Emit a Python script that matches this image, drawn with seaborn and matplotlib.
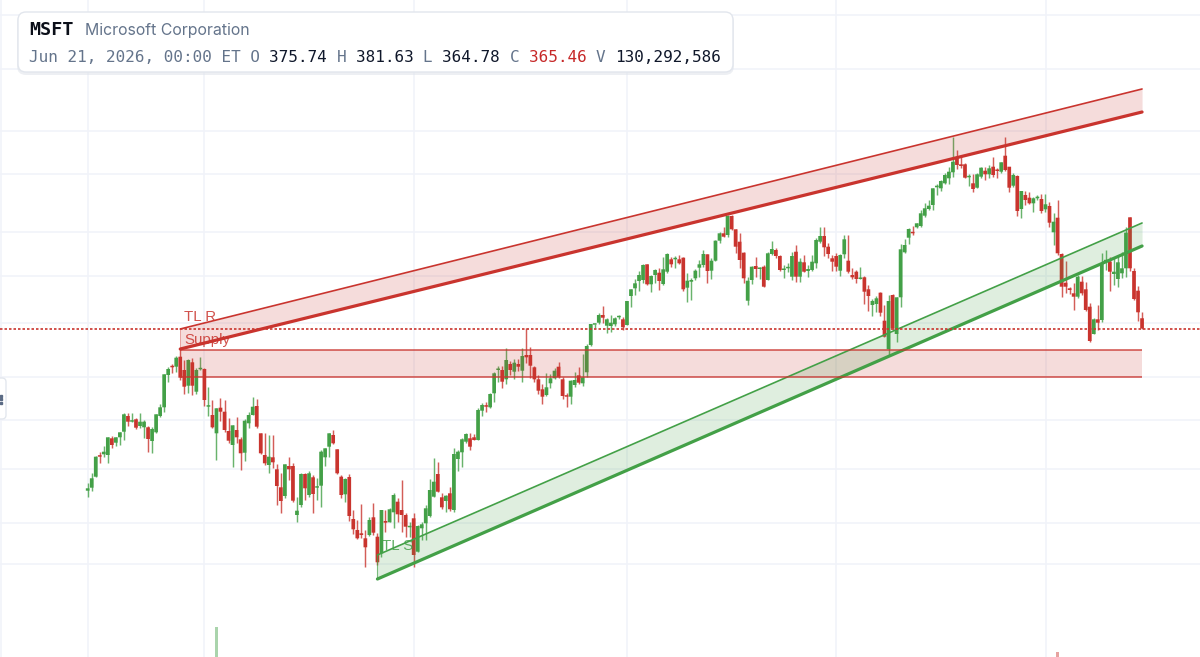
import numpy as np
import pandas as pd
import matplotlib
matplotlib.use('Agg')
import matplotlib.pyplot as plt
from matplotlib.patches import FancyBboxPatch
import seaborn as sns

# weekly candles, oldest first
opens = [
    203.3,206.3,217.3,238,239.7,239,255.7,251.3,256.7,262.3,
    278,272.3,274.7,268,266.7,266.7,253,261.7,278,286.7,
    319,327.3,327.3,337.3,324,308.3,331.7,302.3,324.7,325,
    287.3,279,260.7,286.3,282.3,263,249,264,254.7,241.3,
    270.7,279,288,260.7,239,229,236.7,224.7,206.7,198,
    228,228,179,189,220,199,216.7,206.3,208.3,236.7,
    247.3,259,244.7,217.3,199.7,217,175,164,160.7,155.7,
    159,176.7,157.3,140.7,173,171.7,181.7,192.3,184,179,
    166.7,175.7,142.3,165.7,170.7,178,197.3,220,196.7,193,
    200.7,184,235,241.7,252.3,255.7,256.7,254,283.3,288,
    286.7,300.7,324,324,314.7,330,322.3,330,323.3,339,
    339,326.7,314.7,304.7,299,310.7,315.7,327.3,314.7,298,
    297.3,309,318.7,310.7,321.7,349,369.3,371.3,379,368.3,
    368,369.7,376.7,374.7,369,398,405.7,413,414,429.7,
    409.7,419,421.3,410,422.3,434.7,434.7,434.7,436.3,406.3,
    412.3,415.7,426.3,429,439.7,423.3,433.3,453.3,460.7,459,
    478,464.7,452.3,441.3,393.3,414,428,425,427.3,414,
    440,444,438,424,425.7,417.3,442.3,417.3,431.7,423,
    424,430.7,452.3,458,447.3,435.7,438,423.3,439.7,433.3,
    419,422.3,415,416.7,404.7,389,390,401.3,373.3,344.7,
    399,360,396.7,441.7,456.3,461.7,466.7,468,478.3,485,
    489,506.7,505.7,510.7,515.7,521.7,536.3,529.7,529.7,516.7,
    510.7,506.3,517.3,523.3,519.7,527.3,524,522.3,538.3,527.3,
    508.3,518,485,499,496.3,490.7,495.7,495,484.7,488,
    461.7,476.3,440,411.3,405.7,400.7,397.3,412.3,404.7,387.3,
    360,374.7,374,432.7,432.3,420,415,420.7,425.7,476.7,
    423,403.3,375.74,
]
highs = [
    210.7,220.7,238,242.3,248,257.3,258,257.3,262.3,281.3,
    281.3,280.7,276.3,280.7,274,268,267.3,279.7,289.7,319.7,
    327.3,329.7,338,345.7,334,335,336.3,325.7,337.3,325.7,
    307.3,294,285.7,295.7,294,275.7,268.7,276.7,256.7,274.7,
    282.3,296.7,295.3,261.3,261.3,259,259,230,221.3,229.7,
    237.3,231.3,197.3,221.3,220.7,223,218.7,215.7,244,246.3,
    261.3,264,245,218.7,215.7,220,184,174,190,164,
    177.3,190.7,161.3,184,184,185.7,200.7,195.7,214,180.7,
    172.3,180.7,169,172.3,189,214.7,235.7,232.3,200.7,199,
    206.7,246.3,244,255.7,260.7,260.7,260,285.7,290.7,292.3,
    301.3,322.3,328,328.3,346.3,333.3,334.7,334.7,345.7,365.7,
    346.7,328,319,310,321.3,320,325.7,332.3,316.7,301.3,
    314,322.3,326.7,340,350,370,370,381.3,388,375.7,
    379,376.7,379,377.3,393,404.7,414.7,423.3,429.7,429.7,
    419,424.7,425.7,437.3,440.7,437.3,438,439,436.7,421.3,
    415.7,424.7,434,444,440,435.7,454,461.7,467.3,479,
    479,464.7,460.7,442.3,417.3,428,436.7,427.3,429,442.3,
    453,446.3,439,429,430.7,442.3,449,435.7,439,429,
    439,456.3,467.3,466.7,450.7,439,440.7,439.7,459,459,
    425.7,424,427.3,418,409,394.7,398,402.3,389,399,
    400,396.7,450,454.7,465.7,468,471.3,484,490.7,494,
    506.3,509.7,514,520.7,527.3,557.3,544,538,530.7,519.7,
    519.7,520.7,527.3,527.3,529,537.3,525.7,532.3,556.7,527.3,
    520.7,519,503,503.3,502.3,497.3,499,499.7,499.7,491.7,
    480.7,494,441.3,433.3,406.7,410.7,419,418,412.3,390.7,
    375.7,389,441.3,444,436.7,437.3,438,442.3,467.3,477.3,
    425.7,408,381.63,
]
lows = [
    196.7,203,217,231.3,237.3,231.3,245.7,248,249,254,
    268,272.3,265,265.7,255.7,242.3,241.3,260.7,276.7,282.3,
    312.3,321.3,322.3,314,300,301.3,298.7,300,324,288,
    278,266.3,234,273,262.3,250.7,226.7,251.3,224,233,
    265.7,279,266.3,239.7,229,220.7,225.7,189,181.3,195.7,
    214,192.3,172.3,187.3,194,196.7,180.7,194,187.3,228.3,
    236.7,250,220,196.3,191.7,173.3,159.7,154.7,155.7,127.3,
    158.3,159,129,137.3,162.3,171.7,165.7,172.3,162.3,157.3,
    157.3,127.3,142.3,154,154,176.7,197.3,202.3,185,181.7,
    183,182.3,223.3,226.7,250.7,244,254,254,278.3,282.3,
    285.7,292.3,312.3,305.7,310,319,314.7,323.3,312.3,330.7,
    315.7,312.3,300,290,298,305.7,314.7,315.7,294.7,287.3,
    290,306.7,310,308,317.3,348.3,365.7,370,371.3,361.3,
    362.3,368,374.7,364,369,387.3,399,403.3,410.7,409,
    402.3,410.7,404,409,421.3,427.3,425.7,430,403.3,392.3,
    394,414,417.3,426.7,410.7,414.7,433,451.3,456.7,457.3,
    464,441.3,425.7,410.7,389,410,417.3,414.7,406.7,414,
    439,435.7,423.3,415.7,422.3,414,412.3,411.7,421.7,417.3,
    423.3,425.7,450.7,438,435.7,423.3,423,418,435.7,420.7,
    414.7,411.3,414.7,390,383.3,378.3,382.3,378.3,356.7,339,
    364,351.7,387.3,440.7,450,459,466.3,467.3,476.7,484,
    484,499,503.3,509.7,509.7,517.3,525,526.3,515.7,508.3,
    502.3,505.7,516.3,514,516.3,517.3,515.7,521.3,523.3,502.3,
    506.7,478.3,475.7,489,489.7,481.7,494,480.7,482.3,467.3,
    449,439,396.7,400.7,399.7,384,395.7,399,383,352.3,
    359.7,364,372.3,424,403.3,409,406.7,415.7,416.7,423.3,
    394,373.3,364.78,
]
closes = [
    205.7,215.7,237.3,237.3,242.3,256.7,249,256.7,261.7,279.7,
    272.3,273,266.3,272.3,272.3,255,265,279.7,286.7,319.7,
    325,326.7,336.3,316.3,307.3,334,308.3,324,325.7,294,
    288,266.7,285.7,282.3,264,253.3,268.7,256.7,240.7,273.3,
    279,287.3,267.3,240.7,230.7,237.3,231.7,208,193,229.7,
    224.7,193.3,183.3,220,205.7,220.7,200,206.7,242.3,245.7,
    260.7,250.7,220.7,199,215,178,164.7,155.7,159,146.7,
    174,161.3,131.7,184,171.3,184.7,199,179.7,179,167.3,
    168,139,168,169.7,185.7,204,212.3,202.3,186.7,198.3,
    184.7,240,242.3,254.7,260,247.3,254,284,289,287.3,
    300,320.7,324.7,312.3,334,324,331.3,327.3,338,336.7,
    328.3,314.7,303.3,297.3,306.7,315.7,323.3,316.7,298,297.3,
    313.3,314,311.3,316.7,348,370,370,379,376.3,374.7,
    371.3,375.7,377.3,366.7,393,404.7,410.7,419,429,409.7,
    418,424,413,424.7,440,429.7,435,430.7,404.7,413.3,
    414,423.3,429.7,440,423,433.3,453.3,460.7,457.3,478,
    464.7,447.3,434,415.7,413.3,427.3,425,425.7,407.3,440.7,
    445,438,424,424.7,426.3,438,417.3,432.3,422.3,425,
    432.3,454,458,446.7,440,432.3,427.3,439,454.7,422.3,
    416.7,415,416.3,402.3,398,393,395.7,381.3,357.3,393,
    365.7,396.7,444.7,449,465,460.7,470.7,480.7,485.7,488.3,
    505.7,508.3,513,519,522.3,532.3,529,528,516.3,517.3,
    505,519.7,526.3,519.7,525.7,519,523,531.7,524,506.3,
    519,483,503,494,490.7,495.7,497.3,483,489.7,471.3,
    472.3,440.7,407.3,407.3,404,397.3,417.3,400.7,384,353,
    374.7,371.3,430.7,433.3,422.3,422.3,431.7,425.7,461.3,425.7,
    395,381.7,365.46,
]

# only two volume bars poke up into the view
volume_weeks = [32, 241]
volume_vals = [30, 5]
volume_up = [True, False]

# drawn levels: week index and price at each end
resist_weeks = [23, 262]
resist_low = [345, 582]
resist_high = [365, 605]
support_weeks = [72, 262]
support_low = [115, 448]
support_high = [139, 471]
supply_weeks = [23, 262]
supply_top = 344
supply_bottom = 317
last_close = 365.46

grid_weeks = [-21.5, 0, 29, 81, 134, 186, 238.2]
grid_prices = [679, 625, 563, 520, 462, 418, 371, 317, 274, 225, 171, 130]

GREEN = '#43a047'
RED = '#c9342e'

sns.set_theme(style='white')
plt.rcParams['font.family'] = ['Liberation Sans', 'DejaVu Sans']

df = pd.DataFrame({'open': opens, 'high': highs, 'low': lows, 'close': closes})
df['week'] = np.arange(len(df))
df['up'] = df['close'] >= df['open']
df['color'] = df['up'].map({True: GREEN, False: RED})

fig = plt.figure(figsize=(12, 6.57), dpi=100)
ax = fig.add_axes([0, 0, 1, 1])
ax.set_xlim(-21.79, 276.4)
ax.set_ylim(37, 694)

ax.set_xticks(grid_weeks)
ax.set_yticks(grid_prices)
ax.tick_params(length=0, labelbottom=False, labelleft=False)
ax.grid(True, color='#f1f3f9', lw=1.2)
ax.set_axisbelow(True)
sns.despine(ax=ax, left=True, bottom=True)

# candles
ax.vlines(df['week'], df['low'], df['high'], color=df['color'], lw=1.05, alpha=0.8, zorder=2)
body_low = df[['open', 'close']].min(axis=1)
body_h = (df['open'] - df['close']).abs().clip(lower=1.5)
bars = ax.bar(df['week'], body_h, bottom=body_low, width=0.92, color=df['color'], linewidth=0, zorder=3)
for b in bars:
    b.set_snap(False)

# volume sits on its own scale at the bottom
ax_vol = fig.add_axes([0, 0, 1, 1], sharex=ax)
ax_vol.patch.set_alpha(0)
ax_vol.axis('off')
ax_vol.set_ylim(0, 657)
ax_vol.bar(volume_weeks, volume_vals, width=0.65,
           color=[GREEN if u else RED for u in volume_up], alpha=0.45, linewidth=0)

# bands
ax.fill_between(resist_weeks, resist_low, resist_high, color=RED, alpha=0.17, lw=0, zorder=4)
ax.fill_between(supply_weeks, supply_bottom, supply_top, color=RED, alpha=0.17, lw=0, zorder=4)
ax.fill_between(support_weeks, support_low, support_high, color=GREEN, alpha=0.17, lw=0, zorder=4)

sns.lineplot(x=resist_weeks, y=resist_low, color=RED, lw=2.3, ax=ax, zorder=5)
sns.lineplot(x=resist_weeks, y=resist_high, color=RED, lw=1.2, ax=ax, zorder=5)
sns.lineplot(x=support_weeks, y=support_low, color=GREEN, lw=2.3, ax=ax, zorder=5)
sns.lineplot(x=support_weeks, y=support_high, color=GREEN, lw=1.2, ax=ax, zorder=5)
ax.vlines(support_weeks[0], support_low[0], support_high[0], color=GREEN, lw=0.8, alpha=0.7, zorder=5)
ax.vlines(resist_weeks[0], resist_low[0], resist_high[0], color=RED, lw=0.6, alpha=0.5, zorder=5)
ax.hlines([supply_top, supply_bottom], supply_weeks[0], supply_weeks[1], color=RED, lw=1.2, alpha=0.8, zorder=5)
ax.axhline(last_close, color=RED, lw=1.2, ls=(0, (1.5, 1.2)), zorder=5)

ax.text(24, 377, 'TL R', color=RED, fontsize=10.8, va='center', alpha=0.85, zorder=6)
ax.text(24, 354, 'Supply', color=RED, fontsize=10.8, va='center', alpha=0.85, zorder=6)
ax.text(73.2, 148, 'TL S', color=GREEN, fontsize=10.8, va='center', alpha=0.85, zorder=6)
ax.set_xlabel('')
ax.set_ylabel('')

# overlay in screen pixels for the info box and the side handle
ui = fig.add_axes([0, 0, 1, 1])
ui.set_xlim(0, 1200)
ui.set_ylim(657, 0)
ui.axis('off')
ui.patch.set_alpha(0)

ui.add_patch(FancyBboxPatch((17, 13), 717, 62, boxstyle='round,pad=0,rounding_size=9',
                            fc='#dfe3ea', ec='none', alpha=0.55))
ui.add_patch(FancyBboxPatch((18, 12), 715, 60, boxstyle='round,pad=0,rounding_size=8',
                            fc='white', ec='#e2e6ed', lw=1.0))
ui.text(29, 30, 'MSFT', family='DejaVu Sans Mono', weight='bold', fontsize=13.2, color='#0b0f19', va='center')
ui.text(85, 31, 'Microsoft Corporation', family='Inter', fontsize=11.4, color='#64748b', va='center')

MUTED = '#64748b'
INK = '#0f172a'
segments = [
    ('Jun 21, 2026, 00:00 ET O ', MUTED),
    ('375.74 ', INK),
    ('H ', MUTED),
    ('381.63 ', INK),
    ('L ', MUTED),
    ('364.78 ', INK),
    ('C ', MUTED),
    ('365.46 ', '#c62828'),
    ('V ', MUTED),
    ('130,292,586', INK),
]
chars = 0
for seg, col in segments:
    ui.text(29 + chars * 9.61, 57, seg, family='DejaVu Sans Mono', fontsize=11.5, color=col, va='center')
    chars += len(seg)

# collapsed toolbar handle on the left edge
ui.add_patch(FancyBboxPatch((-8, 378), 14, 41, boxstyle='round,pad=0,rounding_size=4',
                            fc='white', ec='#e3e7ee', lw=1))
ui.plot([1, 1, 1], [395.5, 399, 402.5], ls='', marker='s', ms=1.6, color='#5b6b85')

fig.savefig('out.png', dpi=100)
plt.close(fig)
